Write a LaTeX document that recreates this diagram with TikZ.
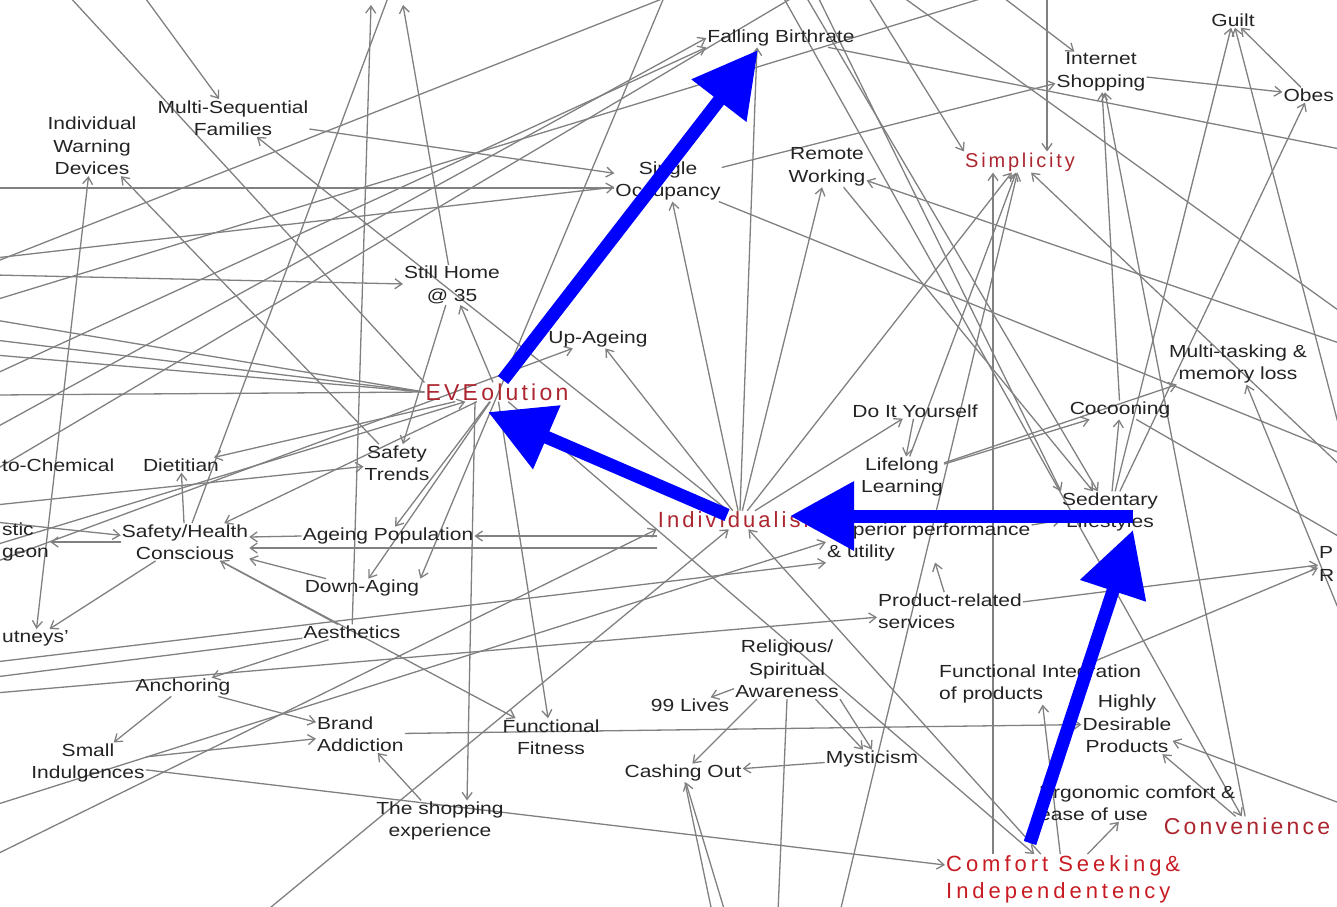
\documentclass[tikz,border=0pt]{standalone}
\usepackage{fontspec}
\setmainfont{Liberation Sans}[FakeStretch=1.2]
\newfontfamily\hubfont{Liberation Sans}[LetterSpace=14]
\newfontfamily\hubfontwide{Liberation Sans}[LetterSpace=18]
\usetikzlibrary{arrows.meta,calc}
\pgfdeclarelayer{background}
\pgfdeclarelayer{foreground}
\pgfsetlayers{background,main,foreground}
\definecolor{linegray}{RGB}{128,128,128}
\definecolor{hubred}{RGB}{172,38,48}
\definecolor{csred}{RGB}{200,28,36}
\definecolor{arrowblue}{RGB}{0,0,255}
\definecolor{labelink}{RGB}{35,35,35}
\tikzset{
  lbl/.style={font={\fontsize{17.5}{22.5}\selectfont}, text=labelink, align=center, inner sep=1pt},
  hub/.style={font={\hubfont\fontsize{23}{27}\selectfont}, text=hubred, inner sep=1pt},
  link/.style={draw=linegray, line width=1.3pt, -{Straight Barb[length=7pt,width=10pt]}},
  twoway/.style={draw=linegray, line width=1.3pt, {Straight Barb[length=7pt,width=10pt]}-{Straight Barb[length=7pt,width=10pt]}},
  tie/.style={draw=linegray, line width=1.3pt},
  thrust/.style={draw=arrowblue, line width=13pt, -{Triangle[length=64pt,width=66pt]}},
}
\begin{document}
\begin{tikzpicture}[x=1pt, y=-1pt]
\useasboundingbox (0,0) rectangle (1337,906);
\begin{scope}
\clip (0,0) rectangle (1337,906);

% ---------- hub concepts ----------
\node[hub] (eve) at (497,392) {EVEolution};
\node[hub, font={\hubfont\fontsize{22}{26}\selectfont}] (indv) at (740,520) {Individualism};
\node[hub, font={\hubfont\fontsize{20}{24}\selectfont}] (simp) at (1020,162) {Simplicity};
\node[hub] (conv) at (1247,826) {Convenience};
\node[hub, font={\hubfontwide\fontsize{22}{27}\selectfont}, text=csred, align=left, anchor=west] (cs) at (945,879) {Comfort Seeking\&\\Independentency};

% ---------- trend labels ----------
\node[lbl] (fb) at (781,38) {Falling Birthrate};
\node[lbl] (msf) at (233,118) {Multi-Sequential\\Families};
\node[lbl] (iwd) at (92,146) {Individual\\Warning\\Devices};
\node[lbl] (ins) at (1101,72) {Internet\\Shopping};
\node[lbl] (guilt) at (1233,20) {Guilt};
\node[lbl, anchor=east] (obes) at (1335,95) {Obes};
\node[lbl] (so) at (668,181) {Single\\Occupancy};
\node[lbl] (rw) at (827,167) {Remote\\Working};
\node[lbl] (sh) at (452,285) {Still Home\\@ 35};
\node[lbl] (upa) at (598,339) {Up-Ageing};
\node[lbl] (mtask) at (1238,364) {Multi-tasking \&\\memory loss};
\node[lbl] (diy) at (915,411) {Do It Yourself};
\node[lbl] (coc) at (1120,410) {Cocooning};
\node[lbl] (lll) at (902,477) {Lifelong\\Learning};
\node[lbl, anchor=west] (chem) at (1,465) {to-Chemical};
\node[lbl] (diet) at (181,465) {Dietitian};
\node[lbl] (st) at (397,463) {Safety\\Trends};
\node[lbl] (sed) at (1110,512) {Sedentary\\Lifestyles};
\node[lbl, anchor=west, align=left] (sup) at (826,542) {Superior performance\\\& utility};
\node[lbl] (ap) at (388,536) {Ageing Population};
\node[lbl] (shc) at (185,542) {Safety/Health\\Conscious};
\node[lbl, anchor=west, align=left] (plast) at (1,542) {stic\\geon};
\node[lbl] (da) at (362,588) {Down-Aging};
\node[lbl, anchor=west, align=left] (prs) at (877,611) {Product-related\\services};
\node[lbl] (aes) at (352,632) {Aesthetics};
\node[lbl, anchor=west] (jrn) at (1,638) {utneys'};
\node[lbl] (rsa) at (787,669) {Religious/\\Spiritual\\Awareness};
\node[lbl, anchor=west, align=left] (fip) at (938,684) {Functional Integration\\of products};
\node[lbl] (anc) at (183,687) {Anchoring};
\node[lbl] (nl) at (690,705) {99 Lives};
\node[lbl] (hdp) at (1127,724) {Highly\\Desirable\\Products};
\node[lbl, anchor=west, align=left] (ba) at (316,734) {Brand\\Addiction};
\node[lbl] (ff) at (551,737) {Functional\\Fitness};
\node[lbl] (si) at (88,763) {Small\\Indulgences};
\node[lbl] (co) at (683,773) {Cashing Out};
\node[lbl] (mys) at (872,759) {Mysticism};
\node[lbl, anchor=west, align=left] (erg) at (1038,803) {Ergonomic comfort \&\\ease of use};
\node[lbl] (tse) at (440,821) {The shopping\\experience};
\node[lbl, anchor=west, align=left] (pr) at (1318,564) {P\\R};

% ---------- ends of links that leave the frame ----------
\coordinate (ta1) at (68,-5);    \coordinate (ta2) at (143,-5);
\coordinate (ta3) at (371,5);    \coordinate (ta4) at (403,5);
\coordinate (ta5) at (389,-5);   \coordinate (ta6) at (672,-5);
\coordinate (ta9) at (665,-5);   \coordinate (ta10) at (867,-5);
\coordinate (ta11) at (1047,-5); \coordinate (ta12) at (1000,-5);
\coordinate (ta13) at (900,-5);  \coordinate (ta14) at (805,-5);
\coordinate (ta15) at (817,-5);  \coordinate (ta16) at (782,-5);
\coordinate (ta19) at (993,-5);  \coordinate (ta21) at (797,-5);
\coordinate (la1) at (-5,262);   \coordinate (la2) at (-5,428);
\coordinate (la3) at (-5,470);   \coordinate (la4) at (-5,374);
\coordinate (la5) at (-5,300);   \coordinate (la6) at (-5,662);
\coordinate (la7) at (-5,677);   \coordinate (la8) at (-5,693);
\coordinate (la9) at (-5,855);   \coordinate (la10) at (-5,805);
\coordinate (la12) at (-5,562);  \coordinate (la13) at (-5,522);
\coordinate (la14) at (-5,505);  \coordinate (la15) at (-5,340);
\coordinate (la16) at (-5,320);  \coordinate (la17) at (-5,395);
\coordinate (la18) at (-5,188);  \coordinate (la19) at (-5,355);
\coordinate (la20) at (-5,545);  \coordinate (la22) at (-5,258);
\coordinate (la23) at (-5,275);
\coordinate (rb1) at (1345,150); \coordinate (rb2) at (1345,450);
\coordinate (rb3) at (1345,345); \coordinate (rb5) at (1345,470);
\coordinate (rb6) at (1345,805); \coordinate (rb8) at (1345,625);
\coordinate (rb9) at (1345,540); \coordinate (rb10) at (1345,455);
\coordinate (rb11) at (1345,315);
\coordinate (ba1) at (265,912);  \coordinate (bt1) at (778,912);
\coordinate (bt2) at (712,912);  \coordinate (bt3) at (725,912);
\coordinate (bt4) at (840,912);
\end{scope}

% ---------- grey links ----------
\begin{pgfonlayer}{background}
\clip (0,0) rectangle (1337,906);
% along the top edge
\draw[tie] (eve.north west) -- (ta1);
\draw[link] (ta2) -- (msf);
\draw[link] (aes) -- (ta3);
\draw[link] (sh) -- (ta4);
\draw[tie] (shc) -- (ta5);
\draw[tie] (la1) -- (ta6);
\draw[link] (la2) -- (fb.west);
\draw[tie] (la3) -- (ta21);
\draw[link] (la4) -- (fb.south west);
\draw[tie] (la5) -- (ta19);
\draw[link] (ta9) -- (da.north east);
\draw[link] (ta10) -- (simp.north west);
\draw[link] (ta11) -- (ta11 |- simp.north);
\draw[link] (ta12) -- (ins);
\draw[tie] (ta13) -- (rb11);
\draw[link] (ta14) -- (sed);
\draw[link] (ta15) -- (sed.north west);
\draw[link] (ta16) -- (conv);
\draw[tie] (fb) -- (rb1);
% around Individualism
\draw[link] (indv.north) -- ([xshift=-24pt]fb.south);
\draw[link] (indv) -- (so);
\draw[link] (indv) -- (rw);
\draw[link] (indv) -- (upa);
\draw[link] (indv.west |- ap.east) -- (ap.east);
\draw[link] ([yshift=-28pt]indv.west) -- ([yshift=-6pt]shc.east);
\draw[link] (ap.west) -- ([yshift=5pt]shc.east);
\draw[link] (indv) -- (diy);
\draw[link] (indv) -- (simp);
\draw[link] (indv) -- (msf);
\draw[link] (cs) -- (indv);
\draw[link] (ba1) -- (indv);
\draw[link] (la6) -- (sup.south west);
\draw[link] (la9) -- (indv.south west);
\draw[link] (la10) -- (sup.west);
% around EVEolution
\draw[link] (eve) -- (sh);
\draw[link] (sh) -- (st);
\draw[link] (eve) -- (ap);
\draw[link] (eve) -- (da);
\draw[link] ([xshift=-22pt]eve.south) -- ([xshift=27pt]tse.north);
\draw[link] (eve) -- (ff);
\draw[link] (eve) -- (shc);
\draw[link] (eve) -- (diet);
\draw[link] (eve) -- (cs);
\draw[tie] (eve.west) -- (la15);
\draw[tie] (eve.west) -- (la16);
\draw[tie] (eve.west) -- (la17);
\draw[tie] (eve.west) -- (la19);
\draw[link] (la20) -- (eve);
\draw[link] (la12) -- (upa);
\draw[link] (la22) -- (so);
\draw[link] (la23) -- (sh);
% left side
\draw[link] (shc) -- (diet);
\draw[link] (shc) -- (plast);
\draw[link] (la13) -- (shc);
\draw[link] (la14) -- (st);
\draw[link] (shc) -- (jrn);
\draw[twoway] (jrn) -- (iwd);
\draw[link] (st) -- (iwd);
\draw[link] (msf) -- (so);
\draw[tie] (la18) -- (so.west |- la18);
\draw[tie] (aes) -- (la7);
\draw[link] (aes) -- (anc);
\draw[link] (la8) -- (prs);
\draw[link] (si) -- (ba);
\draw[link] (anc) -- (ba);
\draw[link] (anc) -- (si);
\draw[link] (si) -- (cs);
\draw[link] (tse) -- (ba);
\draw[link] (ba) -- (hdp);
\draw[link] (shc) -- (ff);
\draw[link] (da) -- (shc);
\draw[link] (aes) -- (shc);
% lower middle
\draw[link] (rsa) -- (nl);
\draw[link] (rsa) -- (co);
\draw[link] (rsa) -- (mys);
\draw[link] (rsa.south east) -- (mys.north);
\draw[link] (mys) -- (co);
\draw[tie] (rsa.south) -- (bt1);
\draw[tie] (bt2) -- (co);
\draw[link] (bt3) -- (co);
\draw[link] (bt4) -- (simp);
\draw[link] (prs) -- (sup);
% right side
\draw[link] (diy) -- (lll);
\draw[link] (lll) -- (coc);
\draw[link] (rw) -- (sed);
\draw[link] (sup) -- (sed);
\draw[link] (sed) -- (coc);
\draw[link] (lll) -- (mtask);
\draw[link] (sed) -- (obes);
\draw[link] (sed) -- (guilt);
\draw[link] (coc) -- (ins);
\draw[link] (conv) -- (ins);
\draw[link] (rb2) -- (guilt);
\draw[link] (obes) -- (guilt);
\draw[link] (ins) -- (obes);
\draw[link] (so) -- (ins);
\draw[link] (rb3) -- (rw);
\draw[tie] (so) -- (rb10);
\draw[link] (cs) -- (erg);
\draw[link] (cs) -- (fip);
\draw[link] ([xshift=48pt]cs.north west) -- ([xshift=-27pt]simp.south);
\draw[link] (rb5) -- (simp);
\draw[link] (rb6) -- (hdp);
\draw[link] (conv) -- (hdp);
\draw[link] (rb8) -- (mtask);
\draw[link] (prs) -- (pr);
\draw[link] (fip) -- (pr);
\draw[tie] (coc) -- (rb9);
\draw[link] (lll) -- (simp);
\end{pgfonlayer}

% ---------- highlighted path ----------
\begin{pgfonlayer}{foreground}
\draw[thrust] ([xshift=6pt,yshift=12pt]eve.center) -- ([xshift=-23pt,yshift=-12pt]fb.center);
\draw[thrust] ([xshift=-13pt,yshift=5pt]indv.center) -- ([xshift=-9pt,yshift=-20pt]eve.center);
\draw[thrust] ([xshift=23pt,yshift=-4pt]sed.center) -- ([xshift=50pt,yshift=4pt]indv.center);
\draw[thrust] ([xshift=85pt,yshift=36pt]cs.west) -- ([xshift=23pt,yshift=-18pt]sed.center);
\end{pgfonlayer}
\end{tikzpicture}
\end{document}
